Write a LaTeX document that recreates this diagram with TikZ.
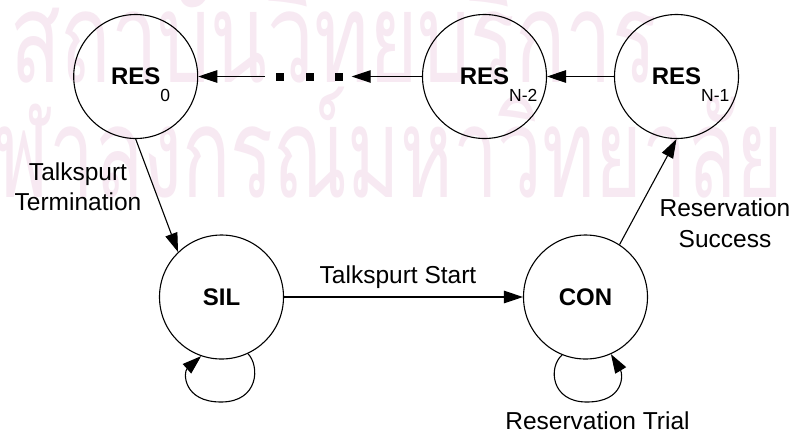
\documentclass[tikz,border=0pt]{standalone}
\usepackage{fontspec}
\setmainfont{Liberation Sans}
\newfontfamily\thaifont[Script=Thai]{Loma}
\usetikzlibrary{arrows.meta,calc}
\definecolor{wmark}{RGB}{247,233,242}
\tikzset{
  state/.style={circle,draw,line width=1.1pt,minimum size=124pt,inner sep=0pt,
    font=\fontsize{24}{28}\selectfont\bfseries},
  edge/.style={line width=1.1pt,-{Triangle[length=19pt,width=12.5pt]}},
  gapdot/.style={rectangle,fill=black,minimum size=8pt,inner sep=0pt},
  lbl/.style={font=\fontsize{24.5}{30.5}\selectfont,inner sep=0pt,align=center},
  wmtext/.style={text=wmark,inner sep=0pt,anchor=base west,
    font=\thaifont\fontsize{126}{126}\selectfont},
}
% state name with a dropped subscript
\newcommand\ressub[1]{RES\rlap{\smash{\raisebox{-17pt}{\fontsize{17.5}{20}\selectfont\mdseries #1}}}\hspace{11.7pt}}

\begin{document}
\begin{tikzpicture}[x=1pt,y=-1pt]
\useasboundingbox (0,0) rectangle (794,440);
\fill[white] (0,0) rectangle (794,440);

% background seal text
\node[wmtext,xscale=0.66] (wm1) at (10,82) {สถาบันวิทยบริการ};
\node[wmtext,xscale=0.634] (wm2) at (-52,197) {จุฬาลงกรณ์มหาวิทยาลัย};

% states
\node[state] (r0)  at (135.7,76.5) {\ressub{0}};
\node[state] (rn2) at (484.5,76.5) {\ressub{N-2}};
\node[state] (rn1) at (676.5,76.5) {\ressub{N-1}};
\node[state] (sil) at (221.5,297) {SIL};
\node[state] (con) at (585.5,297) {CON};

% elided chain of reservation states
\node[gapdot] (d1) at (280,76.5) {};
\node[gapdot] (d2) at (310,76.5) {};
\node[gapdot] (d3) at (339,76.5) {};
\coordinate (gapL) at (265,76.5);
\coordinate (gapR) at (351.7,76.5);

% transitions
\draw[edge] (rn1) -- (rn2);
\draw[edge] (rn2) -- (gapR);
\draw[edge] (gapL) -- (r0);
\draw[edge] (r0.south) -- (sil.134);
\draw[edge] (sil) -- (con);
\draw[edge] (con.57) -- (rn1.south);

% self loops
\coordinate (silB) at (221,402);
\draw[edge] (sil.295) .. controls +(12,12) and +(38,0) .. (silB)
  .. controls +(-38,0) and +(-18,16) .. (sil.251);
\coordinate (conB) at (586.7,402);
\draw[edge] (con.248) .. controls +(-14,12) and +(-36,0) .. (conB)
  .. controls +(38,0) and +(12,20) .. (con.294);

% transition labels
\node[lbl,anchor=base] (lstart) at (398,283) {Talkspurt Start};
\node[lbl,anchor=north] (lterm) at (78,162.5) {Talkspurt\\Termination};
\node[lbl,anchor=north] (lsucc) at (725,199) {Reservation\\Success};
\node[lbl,anchor=base] (ltrial) at (597.5,429) {Reservation Trial};
\end{tikzpicture}
\end{document}
